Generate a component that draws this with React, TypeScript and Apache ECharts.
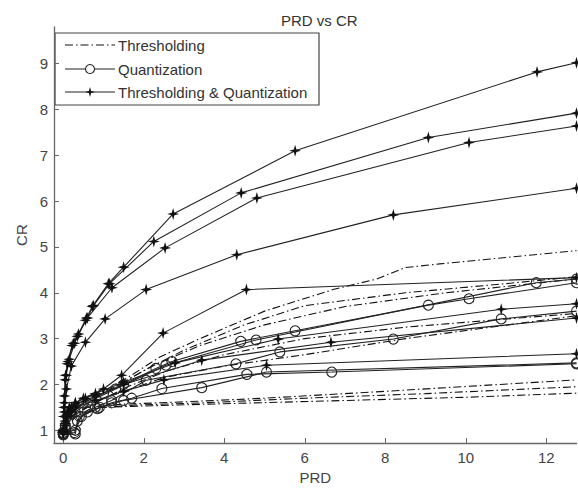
import React, { useEffect, useRef } from "react";
import * as echarts from "echarts";

type P = [number, number];

const xTicks = [0, 2, 4, 6, 8, 10, 12];
const yTicks = [1, 2, 3, 4, 5, 6, 7, 8, 9];

// Thresholding & Quantization (star markers)
const tq1: P[] = [[0, 0.97], [0.01, 1.3], [0.03, 1.75], [0.06, 2.2], [0.12, 2.5], [0.25, 2.9], [0.35, 3.05], [0.58, 3.45], [0.72, 3.7], [1.12, 4.2], [1.5, 4.56], [2.73, 5.72], [5.76, 7.1], [11.77, 8.82], [12.75, 9.02]];
const tq2: P[] = [[0, 0.95], [0.02, 1.5], [0.05, 2.1], [0.1, 2.45], [0.22, 2.85], [0.38, 3.1], [0.6, 3.45], [0.75, 3.72], [1.15, 4.2], [2.25, 5.12], [4.42, 6.18], [9.07, 7.39], [12.75, 7.92]];
const tq3: P[] = [[0, 1.0], [0.03, 1.6], [0.07, 2.2], [0.15, 2.55], [0.28, 2.9], [0.55, 3.4], [1.21, 4.11], [2.53, 4.98], [4.81, 6.07], [10.08, 7.28], [12.75, 7.64]];
const tq4: P[] = [[0, 0.92], [0.03, 1.4], [0.08, 1.9], [0.2, 2.4], [0.55, 2.92], [1.04, 3.43], [2.06, 4.07], [4.31, 4.83], [8.2, 5.7], [12.75, 6.28]];
const tq5: P[] = [[0, 0.95], [0.05, 1.3], [0.15, 1.5], [0.3, 1.6], [0.5, 1.7], [1.0, 1.9], [1.45, 2.2], [2.48, 3.12], [4.55, 4.07], [12.75, 4.33]];
const tq6: P[] = [[0, 1.0], [0.05, 1.2], [0.1, 1.4], [0.2, 1.5], [0.3, 1.6], [0.55, 1.7], [0.8, 1.8], [1.5, 2.05], [2.78, 2.47], [5.34, 2.99], [10.88, 3.64], [12.75, 3.76]];
const tq7: P[] = [[0, 0.95], [0.05, 1.15], [0.1, 1.35], [0.2, 1.45], [0.3, 1.55], [0.8, 1.75], [1.5, 2.0], [3.44, 2.53], [6.65, 2.92], [12.75, 3.45]];
const tq8: P[] = [[0, 0.95], [0.05, 1.1], [0.1, 1.3], [0.2, 1.4], [0.3, 1.5], [0.8, 1.65], [1.5, 1.85], [2.5, 2.1], [5.05, 2.42], [12.75, 2.67]];

// Quantization (circle markers)
const q1: P[] = [[0, 0.95], [0.05, 1.1], [0.2, 1.35], [0.5, 1.6], [1.0, 1.8], [1.5, 2.0], [2.3, 2.35], [2.7, 2.5], [4.41, 2.94], [5.76, 3.17], [9.07, 3.73], [10.08, 3.87], [12.75, 4.22]];
const q2: P[] = [[0, 0.92], [0.05, 1.05], [0.3, 1.4], [0.7, 1.65], [1.3, 1.9], [2.55, 2.42], [4.79, 2.97], [11.75, 4.22], [12.75, 4.3]];
const q3: P[] = [[0, 0.9], [0.3, 0.92], [0.35, 1.2], [0.6, 1.4], [0.8, 1.5], [1.2, 1.65], [2.06, 2.09], [4.29, 2.45], [5.38, 2.71], [8.2, 2.99], [10.88, 3.43], [12.75, 3.6]];
const q4: P[] = [[0, 0.95], [0.3, 1.0], [0.4, 1.3], [0.85, 1.47], [1.2, 1.6], [1.7, 1.7], [2.45, 1.91], [4.56, 2.22], [6.67, 2.27], [12.75, 2.45]];
const q5: P[] = [[0, 0.92], [0.28, 0.95], [0.45, 1.3], [0.9, 1.5], [1.5, 1.65], [3.44, 1.93], [5.05, 2.27], [12.75, 2.47]];

// Thresholding (dash-dot)
const t1: P[] = [[0, 1.0], [0.1, 1.3], [0.4, 1.6], [1.0, 1.85], [1.6, 2.15], [2.4, 2.6], [3.4, 3.0], [5.0, 3.6], [6.7, 4.07], [7.78, 4.3], [8.5, 4.55], [9.35, 4.63], [12.75, 4.92]];
const t2: P[] = [[0, 1.0], [0.15, 1.35], [0.5, 1.6], [1.2, 1.9], [2.0, 2.3], [3.0, 2.75], [4.5, 3.3], [6.0, 3.72], [8.5, 4.0], [11.0, 4.2], [12.75, 4.35]];
const t3: P[] = [[0, 0.98], [0.2, 1.4], [0.6, 1.65], [1.3, 1.95], [2.2, 2.4], [3.4, 2.85], [5.0, 3.3], [7.0, 3.7], [9.5, 4.0], [12.75, 4.3]];
const t4: P[] = [[0, 0.95], [0.2, 1.3], [0.7, 1.6], [1.5, 1.85], [2.5, 2.15], [4.0, 2.4], [6.0, 2.65], [8.5, 3.0], [12.75, 3.5]];
const t5: P[] = [[0, 0.95], [0.2, 1.3], [0.6, 1.5], [1.5, 1.57], [3.0, 1.62], [5.0, 1.7], [8.0, 1.85], [12.75, 2.1]];
const t6: P[] = [[0, 0.93], [0.2, 1.25], [0.7, 1.48], [1.8, 1.55], [3.5, 1.6], [6.0, 1.7], [9.0, 1.8], [12.75, 1.95]];
const t7: P[] = [[0, 0.92], [0.3, 1.3], [0.9, 1.5], [2.0, 1.53], [4.0, 1.58], [7.0, 1.65], [10.0, 1.72], [12.75, 1.81]];
const t8: P[] = [[0, 0.95], [0.2, 1.3], [0.8, 1.6], [1.6, 1.95], [2.6, 2.3], [4.0, 2.65], [6.0, 3.0], [8.5, 3.25], [12.75, 3.55]];

const thresholding = [t1, t2, t3, t4, t5, t6, t7, t8];
const quantization = [q1, q2, q3, q4, q5];
const both = [tq1, tq2, tq3, tq4, tq5, tq6, tq7, tq8];

const legendNames = ["Thresholding", "Quantization", "Thresholding & Quantization"];
const STAR = "path://M0,-6L1.3,-1.3L6,0L1.3,1.3L0,6L-1.3,1.3L-6,0L-1.3,-1.3Z";
const FONT = "'Liberation Sans', Arial, sans-serif";
const DASHDOT = [8, 3, 1.5, 3];

export default function App() {
  const ref = useRef<HTMLDivElement>(null);
  useEffect(() => {
    if (!ref.current) return;
    const chart = echarts.init(ref.current, undefined, { renderer: "svg" });
    const series: any[] = [];
    thresholding.forEach((d) =>
      series.push({
        name: legendNames[0],
        type: "line",
        data: d,
        symbol: "none",
        lineStyle: { color: "#111", width: 1.1, type: DASHDOT },
        itemStyle: { color: "#111" },
      })
    );
    quantization.forEach((d) =>
      series.push({
        name: legendNames[1],
        type: "line",
        data: d,
        symbol: "circle",
        symbolSize: 10,
        showAllSymbol: true,
        lineStyle: { color: "#222", width: 1.1 },
        itemStyle: { color: "rgba(255,255,255,0)", borderColor: "#222", borderWidth: 1.1 },
      })
    );
    both.forEach((d) =>
      series.push({
        name: legendNames[2],
        type: "line",
        data: d,
        symbol: STAR,
        symbolSize: 12,
        showAllSymbol: true,
        lineStyle: { color: "#222", width: 1.1 },
        itemStyle: { color: "#111" },
      })
    );

    // MATLAB-like legend box
    const lx = 55, ly = 33, lw = 264, lh = 72;
    const rows = [45, 69, 92];
    const lineX1 = 65, lineX2 = 115, symX = 90, textX = 118;
    const legendEls: any[] = [
      { type: "rect", shape: { x: lx, y: ly, width: lw, height: lh }, style: { fill: "#fff", stroke: "#444", lineWidth: 1.2 } },
      { type: "line", shape: { x1: lineX1, y1: rows[0], x2: lineX2, y2: rows[0] }, style: { stroke: "#111", lineWidth: 1.1, lineDash: DASHDOT } },
      { type: "line", shape: { x1: lineX1, y1: rows[1], x2: lineX2, y2: rows[1] }, style: { stroke: "#222", lineWidth: 1.1 } },
      { type: "circle", shape: { cx: symX, cy: rows[1], r: 4.5 }, style: { fill: "#fff", stroke: "#222", lineWidth: 1.1 } },
      { type: "line", shape: { x1: lineX1, y1: rows[2], x2: lineX2, y2: rows[2] }, style: { stroke: "#222", lineWidth: 1.1 } },
      {
        type: "polygon",
        shape: { points: [[symX, rows[2] - 5], [symX + 1.1, rows[2] - 1.1], [symX + 5, rows[2]], [symX + 1.1, rows[2] + 1.1], [symX, rows[2] + 5], [symX - 1.1, rows[2] + 1.1], [symX - 5, rows[2]], [symX - 1.1, rows[2] - 1.1]] },
        style: { fill: "#111" },
      },
      ...legendNames.map((n, i) => ({
        type: "text",
        x: textX,
        y: rows[i],
        style: { text: n, font: `15px ${FONT}`, fill: "#333", textVerticalAlign: "middle", verticalAlign: "middle" },
      })),
    ];

    chart.setOption({
      animation: false,
      backgroundColor: "#fff",
      title: {
        text: "PRD vs CR",
        left: 276,
        top: 8,
        textStyle: { fontSize: 15, fontWeight: "normal", color: "#333", fontFamily: FONT },
      },
      grid: { left: 54, right: 1.5, top: 27, bottom: 43, containLabel: false },
      xAxis: {
        type: "value",
        min: -0.23,
        max: 12.75,
        name: "PRD",
        nameLocation: "middle",
        nameGap: 25,
        nameTextStyle: { fontSize: 15, color: "#444", fontFamily: FONT },
        axisLine: { show: true, onZero: false, lineStyle: { color: "#666", width: 1.3 } },
        axisTick: { show: true, inside: true, length: 5, customValues: xTicks, lineStyle: { color: "#666" } },
        axisLabel: { customValues: xTicks, fontSize: 15, color: "#444", margin: 7, fontFamily: FONT },
        splitLine: { show: false },
      },
      yAxis: {
        type: "value",
        min: 0.72,
        max: 9.8,
        name: "CR",
        nameLocation: "middle",
        nameGap: 25,
        nameRotate: 90,
        nameTextStyle: { fontSize: 15, color: "#444", fontFamily: FONT },
        axisLine: { show: true, onZero: false, lineStyle: { color: "#666", width: 1.3 } },
        axisTick: { show: true, inside: true, length: 5, customValues: yTicks, lineStyle: { color: "#666" } },
        axisLabel: { customValues: yTicks, fontSize: 15, color: "#444", margin: 6, fontFamily: FONT },
        splitLine: { show: false },
      },
      graphic: { elements: [{ type: "group", z: 100, children: legendEls }] },
      series,
    });
    return () => chart.dispose();
  }, []);
  return <div ref={ref} style={{ width: 578, height: 490, position: "absolute", left: 0, top: 0 }} />;
}
